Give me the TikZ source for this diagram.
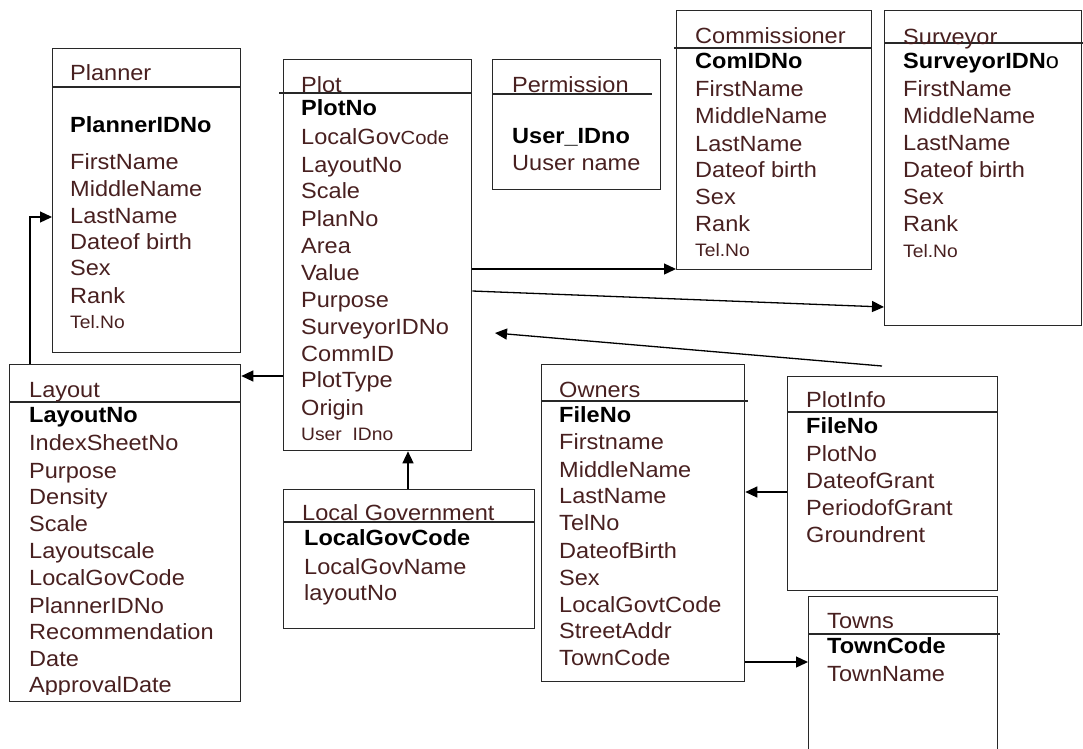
\documentclass[tikz,border=0pt]{standalone}
\usepackage{fontspec}
\setmainfont{Liberation Sans}[FakeStretch=1.07]
\usetikzlibrary{arrows.meta}
\definecolor{txt}{RGB}{72,32,32}
\definecolor{ln}{RGB}{40,40,40}
\begin{document}
\begin{tikzpicture}[x=1pt,y=-1pt,
  box/.style={draw=ln, line width=1.3pt, rectangle, inner sep=0pt, anchor=north west},
  hdr/.style={draw=ln, line width=1.3pt},
  lbl/.style={anchor=base west, inner sep=0pt, text=txt, font=\fontsize{22}{26}\selectfont},
  key/.style={anchor=base west, inner sep=0pt, text=black, font=\fontsize{22}{26}\selectfont\bfseries},
  sml/.style={anchor=base west, inner sep=0pt, text=txt, font=\fontsize{18}{22}\selectfont},
  arr/.style={draw=black, line width=1.3pt, -{Triangle[length=12pt,width=11pt]}}]
\useasboundingbox (0,0) rectangle (1083,748);
\clip (0,0) rectangle (1083,748);

% ---------- Planner ----------
\node[box, minimum width=188pt, minimum height=304pt] (planner) at (52,48) {};
\draw[hdr] (52,87) -- (240,87);
\node[lbl] (plT) at (70,80) {Planner};
\node[key] (pl1) at (70,132) {PlannerIDNo};
\node[lbl] (pl2) at (70,169) {FirstName};
\node[lbl] (pl3) at (70,196) {MiddleName};
\node[lbl] (pl4) at (70,223) {LastName};
\node[lbl] (pl5) at (70,249) {Dateof birth};
\node[lbl] (pl6) at (70,275) {Sex};
\node[lbl] (pl7) at (70,303) {Rank};
\node[sml] (pl8) at (70,328) {Tel.No};

% ---------- Plot ----------
\node[box, minimum width=188pt, minimum height=391pt] (plot) at (283,59) {};
\draw[hdr] (279,93) -- (471,93);
\node[lbl] (poT) at (301,92) {Plot};
\node[key] (po1) at (301,115) {PlotNo};
\node[lbl] (po2) at (301,144) {LocalGov{\fontsize{19}{22}\selectfont Code}};
\node[lbl] (po3) at (301,172) {LayoutNo};
\node[lbl] (po4) at (301,198) {Scale};
\node[lbl] (po5) at (301,226) {PlanNo};
\node[lbl] (po6) at (301,253) {Area};
\node[lbl] (po7) at (301,280) {Value};
\node[lbl] (po8) at (301,307) {Purpose};
\node[lbl] (po9) at (301,334) {SurveyorIDNo};
\node[lbl] (po10) at (301,361) {CommID};
\node[lbl] (po11) at (301,387) {PlotType};
\node[lbl] (po12) at (301,415) {Origin};
\node[sml] (po13) at (301,440) {User\ \ IDno};

% ---------- Permission ----------
\node[box, minimum width=168pt, minimum height=130pt] (perm) at (492,59) {};
\draw[hdr] (492,94) -- (652,94);
\node[lbl] (peT) at (512,92) {Permission};
\node[key] (pe1) at (512,143) {User\_IDno};
\node[lbl] (pe2) at (512,170) {Uuser name};

% ---------- Commissioner ----------
\node[box, minimum width=195pt, minimum height=259pt] (comm) at (676,10) {};
\draw[hdr] (674,48) -- (871,48);
\node[lbl] (coT) at (695,43) {Commissioner};
\node[key] (co1) at (695,68) {ComIDNo};
\node[lbl] (co2) at (695,96) {FirstName};
\node[lbl] (co3) at (695,123) {MiddleName};
\node[lbl] (co4) at (695,151) {LastName};
\node[lbl] (co5) at (695,177) {Dateof birth};
\node[lbl] (co6) at (695,204) {Sex};
\node[lbl] (co7) at (695,231) {Rank};
\node[sml] (co8) at (695,256) {Tel.No};

% ---------- Surveyor ----------
\node[box, minimum width=197pt, minimum height=315pt] (surv) at (884,10) {};
\draw[hdr] (884,43) -- (1083,43);
\node[lbl] (suT) at (903,44) {Surveyor};
\node[key] (su1) at (903,68) {SurveyorIDN\mdseries o};
\node[lbl] (su2) at (903,96) {FirstName};
\node[lbl] (su3) at (903,123) {MiddleName};
\node[lbl] (su4) at (903,150) {LastName};
\node[lbl] (su5) at (903,177) {Dateof birth};
\node[lbl] (su6) at (903,204) {Sex};
\node[lbl] (su7) at (903,231) {Rank};
\node[sml] (su8) at (903,257) {Tel.No};

% ---------- Layout ----------
\node[box, minimum width=231pt, minimum height=337pt] (layout) at (9,364) {};
\draw[hdr] (9,402) -- (240,402);
\node[lbl] (laT) at (29,397) {Layout};
\node[key] (la1) at (29,422) {LayoutNo};
\node[lbl] (la2) at (29,450) {IndexSheetNo};
\node[lbl] (la3) at (29,478) {Purpose};
\node[lbl] (la4) at (29,504) {Density};
\node[lbl] (la5) at (29,531) {Scale};
\node[lbl] (la6) at (29,558) {Layoutscale};
\node[lbl] (la7) at (29,585) {LocalGovCode};
\node[lbl] (la8) at (29,613) {PlannerIDNo};
\node[lbl] (la9) at (29,639) {Recommendation};
\node[lbl] (la10) at (29,666) {Date};
\begin{scope}
\clip (0,600) rectangle (240,694);
\node[lbl] (la11) at (29,692) {ApprovalDate};
\end{scope}

% ---------- Local Government ----------
\node[box, minimum width=251pt, minimum height=139pt] (lg) at (283,489) {};
\draw[hdr] (283,522) -- (534,522);
\node[lbl] (lgT) at (302,520) {Local Government};
\node[key] (lg1) at (304,545) {LocalGovCode};
\node[lbl] (lg2) at (304,574) {LocalGovName};
\node[lbl] (lg3) at (304,600) {layoutNo};

% ---------- Owners ----------
\node[box, minimum width=203pt, minimum height=317pt] (owners) at (541,364) {};
\draw[hdr] (541,401) -- (748,401);
\node[lbl] (owT) at (559,397) {Owners};
\node[key] (ow1) at (559,422) {FileNo};
\node[lbl] (ow2) at (559,449) {Firstname};
\node[lbl] (ow3) at (559,477) {MiddleName};
\node[lbl] (ow4) at (559,503) {LastName};
\node[lbl] (ow5) at (559,530) {TelNo};
\node[lbl] (ow6) at (559,558) {DateofBirth};
\node[lbl] (ow7) at (559,585) {Sex};
\node[lbl] (ow8) at (559,612) {LocalGovtCode};
\node[lbl] (ow9) at (559,638) {StreetAddr};
\node[lbl] (ow10) at (559,665) {TownCode};

% ---------- PlotInfo ----------
\node[box, minimum width=210pt, minimum height=214pt] (plotinfo) at (787,376) {};
\draw[hdr] (787,412) -- (997,412);
\node[lbl] (piT) at (806,407) {PlotInfo};
\node[key] (pi1) at (806,433) {FileNo};
\node[lbl] (pi2) at (806,461) {PlotNo};
\node[lbl] (pi3) at (806,488) {DateofGrant};
\node[lbl] (pi4) at (806,515) {PeriodofGrant};
\node[lbl] (pi5) at (806,542) {Groundrent};

% ---------- Towns ----------
\node[box, minimum width=189pt, minimum height=180pt] (towns) at (808,596) {};
\draw[hdr] (808,634) -- (1000,634);
\node[lbl] (toT) at (827,628) {Towns};
\node[key] (to1) at (827,653) {TownCode};
\node[lbl] (to2) at (827,681) {TownName};

% ---------- Connectors ----------
\draw[arr] (layout.north -| 30,0) |- (planner.west |- 0,217);
\draw[arr] (plot.west |- 0,376) -- (layout.east |- 0,376);
\draw[arr] (lg.north -| 408,0) -- (plot.south -| 408,0);
\draw[arr] (plot.east |- 0,269) -- (comm.west |- 0,269);
\draw[arr] (plot.east |- 0,291) -- (surv.west |- 0,307);
\coordinate (piStart) at (882,366);
\coordinate (plotTip) at (495,333);
\draw[arr] (piStart) -- (plotTip);
\draw[arr] (plotinfo.west |- 0,492) -- (owners.east |- 0,492);
\draw[arr] (owners.east |- 0,662) -- (towns.west |- 0,662);
\end{tikzpicture}
\end{document}
